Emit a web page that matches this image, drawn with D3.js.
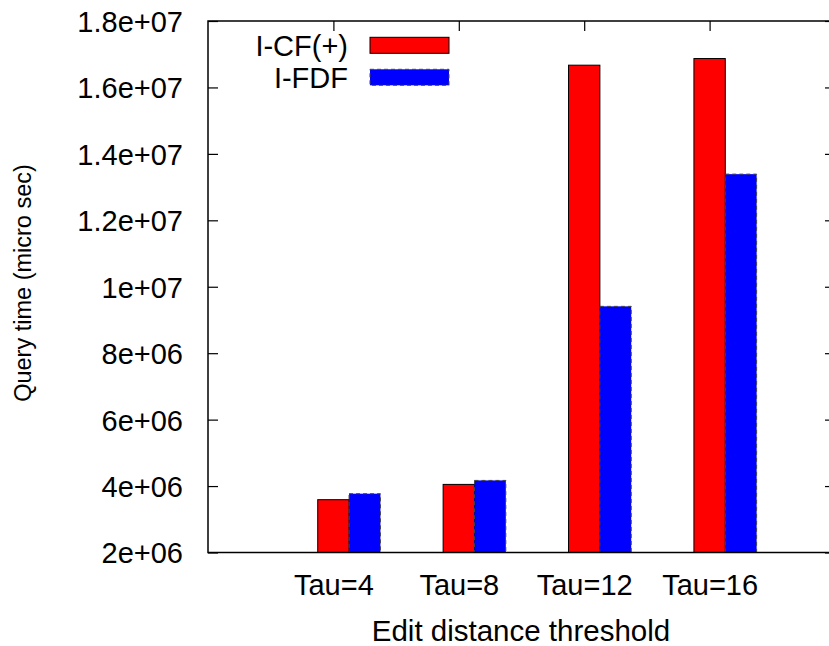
<!DOCTYPE html>
<html>
<head>
<meta charset="utf-8">
<script src="https://cdn.jsdelivr.net/npm/d3@7"></script>
<style>
  html, body { margin: 0; padding: 0; background: #fff; }
  svg { display: block; }
  text { font-family: "Liberation Sans", Arial, Helvetica, sans-serif; fill: #000; }
</style>
</head>
<body>
<svg id="chart" width="829" height="646"></svg>
<script>
// ---- data ----
const categories = ["Tau=4", "Tau=8", "Tau=12", "Tau=16"];
const seriesNames = ["I-CF(+)", "I-FDF"];
const icfValues = [3.59e6, 4.05e6, 1.667e7, 1.687e7];
const ifdfValues = [3.77e6, 4.17e6, 9.41e6, 1.339e7];
const yTickValues = [2e6, 4e6, 6e6, 8e6, 1e7, 1.2e7, 1.4e7, 1.6e7, 1.8e7];
const yTickLabels = ["2e+06", "4e+06", "6e+06", "8e+06", "1e+07", "1.2e+07", "1.4e+07", "1.6e+07", "1.8e+07"];
const xTitle = "Edit distance threshold";
const yTitle = "Query time (micro sec)";

const colors = ["#ff0000", "#0000ff"];
const series = [icfValues, ifdfValues];

const svg = d3.select("#chart");
const mLeft = 208, mRight = 835, mTop = 21, mBottom = 552.5;

const x = d3.scaleLinear().domain([0, categories.length + 1]).range([mLeft, mRight]);
const y = d3.scaleLinear().domain([2e6, 1.8e7]).range([mBottom, mTop]);
const barW = 0.25; // in x units

// bars
const gBars = svg.append("g");
series.forEach((vals, si) => {
  gBars.selectAll(null)
    .data(vals)
    .enter()
    .append("rect")
    .attr("x", (d, i) => x(i + 1 - barW / 2 + si * barW))
    .attr("width", x(barW) - x(0))
    .attr("y", d => y(d))
    .attr("height", d => y(2e6) - y(d))
    .attr("fill", colors[si])
    .attr("stroke", si === 0 ? "#000" : "#444")
    .attr("stroke-width", 1)
    .attr("stroke-dasharray", si === 0 ? null : "4,3");
});

// frame
const frame = svg.append("g").attr("fill", "none").attr("stroke", "#000").attr("stroke-width", 1.5);
frame.append("rect").attr("x", mLeft).attr("y", mTop).attr("width", mRight - mLeft).attr("height", mBottom - mTop);

// y ticks (left inward, right inward)
const tl = 10;
const yAxisL = d3.axisLeft(y).tickValues(yTickValues).tickSize(-tl).tickFormat((d, i) => yTickLabels[i]).tickPadding(25);
const gy = svg.append("g").attr("transform", `translate(${mLeft},0)`).call(yAxisL);
gy.select(".domain").remove();
gy.selectAll(".tick line").attr("stroke", "#000").attr("stroke-width", 1.2);
gy.selectAll(".tick text").attr("font-size", 29).attr("font-family", "'Liberation Sans', Arial, sans-serif").attr("fill", "#000").attr("dy", "0.36em");

const yAxisR = d3.axisRight(y).tickValues(yTickValues).tickSize(-tl).tickFormat("");
const gyr = svg.append("g").attr("transform", `translate(${mRight},0)`).call(yAxisR);
gyr.select(".domain").remove();
gyr.selectAll(".tick line").attr("stroke", "#000").attr("stroke-width", 1.2);

// x ticks top inward
const catIdx = categories.map((c, i) => i + 1);
const xAxisT = d3.axisTop(x).tickValues(catIdx).tickSize(-tl).tickFormat("");
const gxt = svg.append("g").attr("transform", `translate(0,${mTop})`).call(xAxisT);
gxt.select(".domain").remove();
gxt.selectAll(".tick line").attr("stroke", "#000").attr("stroke-width", 1.2);

// x tick labels bottom
const xAxisB = d3.axisBottom(x).tickValues(catIdx).tickSize(0).tickFormat((d, i) => categories[i]).tickPadding(22);
const gxb = svg.append("g").attr("transform", `translate(0,${mBottom})`).call(xAxisB);
gxb.select(".domain").remove();
gxb.selectAll(".tick text").attr("font-size", 29).attr("font-family", "'Liberation Sans', Arial, sans-serif").attr("fill", "#000");

// titles
svg.append("text").attr("x", 521).attr("y", 641).attr("text-anchor", "middle")
  .attr("font-size", 29.5).text(xTitle);
svg.append("text").attr("transform", "translate(31,283) rotate(-90)").attr("text-anchor", "middle")
  .attr("font-size", 23.5).text(yTitle);

// legend
const leg = svg.append("g");
seriesNames.forEach((name, i) => {
  const cy = 45.3 + i * 32;
  leg.append("text").attr("x", 348).attr("y", cy).attr("dy", "0.36em").attr("text-anchor", "end")
    .attr("font-size", 29).text(name);
  leg.append("rect").attr("x", 370).attr("y", cy - 8).attr("width", 79).attr("height", 16)
    .attr("fill", colors[i])
    .attr("stroke", i === 0 ? "#000" : "#444").attr("stroke-width", 1)
    .attr("stroke-dasharray", i === 0 ? null : "4,3");
});
</script>
</body>
</html>
